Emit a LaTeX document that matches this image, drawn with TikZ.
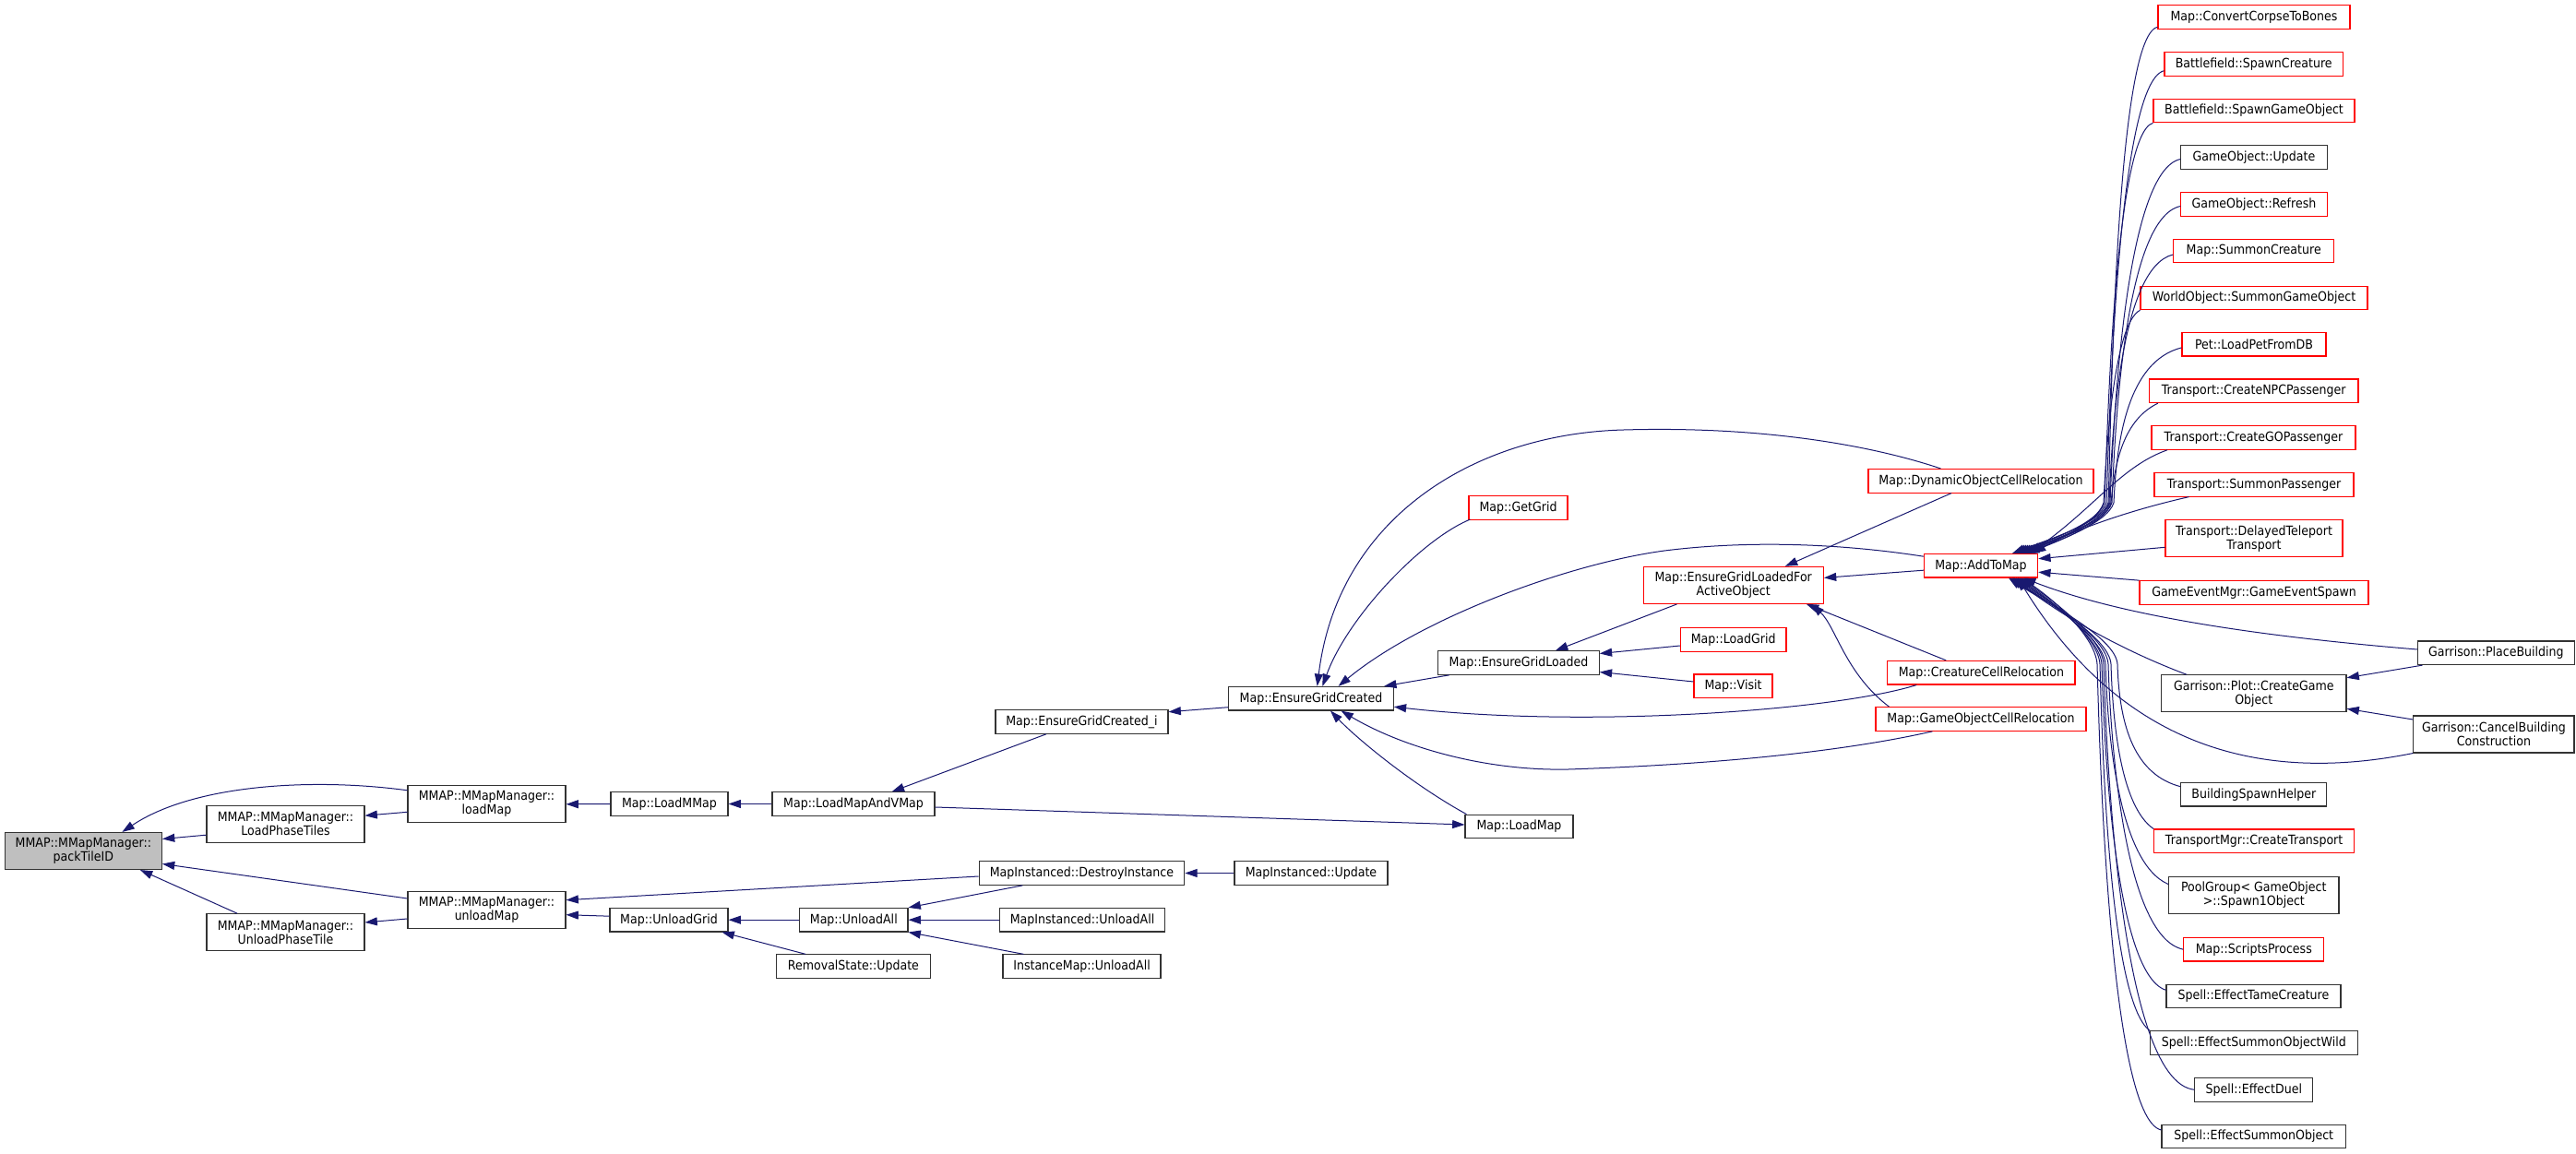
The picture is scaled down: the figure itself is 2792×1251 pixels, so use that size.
\documentclass[tikz,border=0pt]{standalone}
\usepackage{fontspec}
\setmainfont{DejaVu Sans}[FakeStretch=0.9]
\usetikzlibrary{arrows.meta,calc}
\definecolor{edgeblue}{RGB}{25,25,112}
\definecolor{nodegray}{RGB}{191,191,191}
\newcommand\ndfont{\fontsize{10.5}{11.3}\selectfont}
\begin{document}
\begin{tikzpicture}[x=0.75pt,y=-0.75pt,
  nd/.style={draw=black!80, line width=0.8pt, fill=white, inner sep=1pt, font=\ndfont, align=center, minimum height=19.2pt},
  rd/.style={nd, draw=red},
  n2/.style={minimum height=30pt},
  w/.style={minimum width={#1*0.75pt}},
  e/.style={draw=edgeblue, line width=0.75pt, -{Triangle[length=10pt,width=6.7pt]}}]
\fill[white] (0,0) rectangle (2792,1251);
\useasboundingbox (0,0) rectangle (2792,1251);

% left part
\node[nd,n2,w=170,fill=nodegray] (ptid) at (90.4,922.5) {MMAP::MMapManager::\\packTileID};
\node[nd,n2,w=171] (lpt) at (309.5,893.2) {MMAP::MMapManager::\\LoadPhaseTiles};
\node[nd,n2,w=171] (upt) at (309.5,1010.7) {MMAP::MMapManager::\\UnloadPhaseTile};
\node[nd,n2,w=171] (lm) at (527.5,871.8) {MMAP::MMapManager::\\loadMap};
\node[nd,n2,w=171] (um) at (527.5,986.7) {MMAP::MMapManager::\\unloadMap};
\node[nd,w=127] (lmm) at (725.5,871.5) {Map::LoadMMap};
\node[nd,w=176] (lmav) at (925,871.5) {Map::LoadMapAndVMap};
\node[nd,w=187] (egci) at (1172.5,782.5) {Map::EnsureGridCreated\_i};
\node[nd,w=178.5] (egc) at (1421,757.2) {Map::EnsureGridCreated};
\node[nd,w=117] (lmap) at (1646.5,896) {Map::LoadMap};
\node[rd,w=107] (gg) at (1645.5,550.7) {Map::GetGrid};
\node[nd,w=174.5] (egl) at (1646,718.5) {Map::EnsureGridLoaded};
\node[rd,n2,w=195.3] (eglfao) at (1878.7,634.4) {Map::EnsureGridLoadedFor\\ActiveObject};
\node[rd,w=114.5] (lg) at (1878.7,693.5) {Map::LoadGrid};
\node[rd,w=85] (vis) at (1878.5,743.8) {Map::Visit};
\node[rd,w=244] (docr) at (2147,521.3) {Map::DynamicObjectCellRelocation};
\node[rd,w=123.4] (atm) at (2147,613.2) {Map::AddToMap};
\node[rd,w=203.2] (ccr) at (2147.4,729.2) {Map::CreatureCellRelocation};
\node[rd,w=228] (gocr) at (2147,779.5) {Map::GameObjectCellRelocation};
\node[nd,w=222.7] (mid) at (1172.4,946.5) {MapInstanced::DestroyInstance};
\node[nd,w=166] (miu) at (1421,946.5) {MapInstanced::Update};
\node[nd,w=128] (ug) at (725,997.2) {Map::UnloadGrid};
\node[nd,w=117.4] (ua) at (925.3,997.2) {Map::UnloadAll};
\node[nd,w=179.2] (miua) at (1173,997.2) {MapInstanced::UnloadAll};
\node[nd,w=166.3] (rsu) at (924.9,1047.7) {RemovalState::Update};
\node[nd,w=171] (imua) at (1172.5,1047.7) {InstanceMap::UnloadAll};

% right column
\node[rd,w=208] (ccb) at (2443,18.5) {Map::ConvertCorpseToBones};
\node[rd,w=193.5] (bsc) at (2442.7,69.3) {Battlefield::SpawnCreature};
\node[rd,w=218] (bsg) at (2443,120) {Battlefield::SpawnGameObject};
\node[nd,w=158.2] (gou) at (2443,170.5) {GameObject::Update};
\node[rd,w=158.2] (gor) at (2443,221.5) {GameObject::Refresh};
\node[rd,w=174] (msc) at (2442.7,272) {Map::SummonCreature};
\node[rd,w=246] (wosg) at (2443,323) {WorldObject::SummonGameObject};
\node[rd,w=156] (pet) at (2443,373.2) {Pet::LoadPetFromDB};
\node[rd,w=226.6] (tnpc) at (2442.7,423.8) {Transport::CreateNPCPassenger};
\node[rd,w=221] (tgo) at (2442.5,474.5) {Transport::CreateGOPassenger};
\node[rd,w=216] (tsp) at (2443,525.3) {Transport::SummonPassenger};
\node[rd,n2,w=192] (tdt) at (2443,583.7) {Transport::DelayedTeleport\\Transport};
\node[rd,w=248] (ges) at (2443,642.5) {GameEventMgr::GameEventSpawn};
\node[nd,w=170] (gpb) at (2705.4,707.8) {Garrison::PlaceBuilding};
\node[nd,n2,w=200.4] (gpc) at (2442.8,751.8) {Garrison::Plot::CreateGame\\Object};
\node[nd,n2,w=174.2] (gcb) at (2702.9,796) {Garrison::CancelBuilding\\Construction};
\node[nd,w=158] (bsh) at (2442.8,861.2) {BuildingSpawnHelper};
\node[rd,w=217] (tmct) at (2443.1,911.8) {TransportMgr::CreateTransport};
\node[nd,n2,w=184.4] (pool) at (2442.8,970.5) {PoolGroup< GameObject\\>::Spawn1Object};
\node[rd,w=152] (msp) at (2442.8,1029.2) {Map::ScriptsProcess};
\node[nd,w=189] (stc) at (2442.5,1080) {Spell::EffectTameCreature};
\node[nd,w=224.5] (sow) at (2442.8,1130.5) {Spell::EffectSummonObjectWild};
\node[nd,w=128] (sed) at (2442.8,1181.3) {Spell::EffectDuel};
\node[nd,w=199.4] (seso) at (2442.7,1232) {Spell::EffectSummonObject};

% edges, left
\draw[e] ($(lm.west)+(0,-15)$) .. controls (340,843) and (210,850) .. ($(ptid.north)+(42,0)$);
\draw[e] ($(lpt.west)+(0,12)$) -- ($(ptid.east)+(0,-13)$);
\draw[e] ($(lm.west)+(0,8.5)$) -- ($(lpt.east)+(0,-9)$);
\draw[e] ($(um.west)+(0,-12.7)$) -- ($(ptid.east)+(0,14)$);
\draw[e] ($(upt.north west)+(33.6,0)$) -- ($(ptid.south east)+(-24,0)$);
\draw[e] ($(um.west)+(0,9.3)$) -- ($(upt.east)+(0,-10.7)$);
\draw[e] (lmm.west) -- (lm.east);
\draw[e] (lmav.west) -- (lmm.east);
\draw[e] ($(egci.south west)+(55.4,0)$) -- ($(lmav.north)+(41.7,0)$);
\draw[e] ($(lmav.east)+(0,3.5)$) -- ($(lmap.west)+(0,-2)$);
\draw[e] ($(egc.west)+(0,9.5)$) -- ($(egci.east)+(0,-10.8)$);
\draw[e] ($(lmap.north west)+(2,0)$) .. controls (1530,850) and (1470,800) .. ($(egc.south)+(21,0)$);
\draw[e] ($(docr.north west)+(79,0)$) .. controls (2020,480) and (1900,462) .. (1760,466) .. controls (1600,470) and (1450,560) .. ($(egc.north)+(6.7,0)$);
\draw[e] ($(gg.south west)+(2,-1)$) .. controls (1540,585) and (1460,670) .. ($(egc.north)+(12.4,0)$);
\draw[e] ($(atm.west)+(0,-10)$) .. controls (2000,590) and (1900,585) .. (1804,597) .. controls (1700,611) and (1540,670) .. ($(egc.north)+(29.6,0)$);
\draw[e] ($(egl.south west)+(12.5,0)$) -- ($(egc.north east)+(-10.6,0)$);
\draw[e] ($(ccr.south west)+(32,0)$) .. controls (1990,770) and (1720,790) .. ($(egc.east)+(0,9)$);
\draw[e] ($(gocr.south west)+(62,0)$) .. controls (2010,812) and (1880,828) .. (1700,834) .. controls (1610,836) and (1520,810) .. ($(egc.south)+(32.5,0)$);
\draw[e] ($(eglfao.south west)+(37,0)$) -- ($(egl.north)+(40,0)$);
\draw[e] ($(lg.west)+(0,6.5)$) -- ($(egl.east)+(0,-10)$);
\draw[e] ($(vis.west)+(0,-4.8)$) -- ($(egl.east)+(0,10)$);
\draw[e] ($(docr.south)+(-32,0)$) -- ($(eglfao.north east)+(-42,0)$);
\draw[e] ($(atm.west)+(0,5)$) -- ($(eglfao.east)+(0,-8)$);
\draw[e] ($(ccr.north west)+(64,0)$) -- ($(eglfao.south east)+(-19,0)$);
\draw[e] ($(gocr.north west)+(15,0)$) .. controls (2000,730) and (1990,680) .. ($(eglfao.south east)+(-13,0)$);

% edges, bottom
\draw[e] ($(mid.west)+(0,3.5)$) -- ($(um.east)+(0,-11)$);
\draw[e] ($(ug.west)+(0,-4)$) -- ($(um.east)+(0,5)$);
\draw[e] (miu.west) -- (mid.east);
\draw[e] ($(mid.south)+(-64,0)$) -- (ua.north east);
\draw[e] (miua.west) -- (ua.east);
\draw[e] ($(imua.north west)+(23,0)$) -- (ua.south east);
\draw[e] (ua.west) -- (ug.east);
\draw[e] ($(rsu.north west)+(32,0)$) -- ($(ug.south east)+(-7,0)$);

% edges, right
\draw[e] ($(tdt.west)+(0,9.6)$) -- ($(atm.east)+(0,-7.5)$);
\draw[e] (ges.north west) -- ($(atm.east)+(0,7)$);
\draw[e] ($(gpb.south west)+(5.6,0)$) -- ($(gpc.east)+(0,-17)$);
\draw[e] ($(gcb.west)+(0,-16)$) -- ($(gpc.east)+(0,16.5)$);
\draw[e] ($(gpb.west)+(0,-3.8)$) .. controls (2450,690) and (2300,668) .. ($(atm.south)+(46,0)$);
\draw[e] ($(gpc.north west)+(28,0)$) .. controls (2300,705) and (2235,668) .. ($(atm.south)+(35,0)$);
\draw[e] (gcb.south west) .. controls (2450,850) and (2300,810) .. ($(atm.south)+(40,0)$);

% right column, above Map::AddToMap
\draw[e] ($(ccb.west)+(0,10.8)$) .. controls (2292,40) and (2288,470) .. (2285,545) .. controls (2278,568) and (2211,588) .. ($(atm.north)+(34,0)$);
\draw[e] ($(bsc.west)+(0,7.4)$) .. controls (2294,90) and (2286,470) .. (2283,545) .. controls (2276,568) and (2213,588) .. ($(atm.north)+(36,0)$);
\draw[e] (bsg.south west) .. controls (2292,145) and (2284,470) .. (2281,545) .. controls (2274,568) and (2215,588) .. ($(atm.north)+(38,0)$);
\draw[e] ($(gou.west)+(0,2)$) .. controls (2302,185) and (2290,470) .. (2287,545) .. controls (2280,568) and (2217,588) .. ($(atm.north)+(40,0)$);
\draw[e] ($(gor.west)+(0,2)$) .. controls (2302,236) and (2292,470) .. (2289,545) .. controls (2282,568) and (2219,588) .. ($(atm.north)+(42,0)$);
\draw[e] ($(msc.west)+(0,4)$) .. controls (2298,290) and (2289,470) .. (2286,545) .. controls (2279,568) and (2221,588) .. ($(atm.north)+(44,0)$);
\draw[e] (wosg.south west) .. controls (2292,350) and (2283,480) .. (2280,545) .. controls (2273,568) and (2223,588) .. ($(atm.north)+(46,0)$);
\draw[e] ($(pet.west)+(0,3.7)$) .. controls (2305,392) and (2294,480) .. (2291,545) .. controls (2284,568) and (2225,588) .. ($(atm.north)+(48,0)$);
\draw[e] ($(tnpc.south west)+(10,0)$) .. controls (2302,455) and (2292,500) .. (2288,545) .. controls (2282,568) and (2227,588) .. ($(atm.north)+(50,0)$);
\draw[e] ($(tgo.south west)+(17.5,0)$) .. controls (2300,505) and (2270,550) .. ($(atm.north)+(53,0)$);
\draw[e] ($(tsp.south west)+(38,0)$) .. controls (2300,555) and (2240,578) .. ($(atm.north)+(57,0)$);

% right column, below Map::AddToMap
\draw[e] ($(bsh.west)+(0,-8.5)$) .. controls (2315,840) and (2297,790) .. (2295,720) .. controls (2293,690) and (2212,650) .. ($(atm.south)+(30,0)$);
\draw[e] (tmct.north west) .. controls (2300,875) and (2290,790) .. (2288,720) .. controls (2286,690) and (2214,650) .. ($(atm.south)+(32,0)$);
\draw[e] ($(pool.west)+(0,-12)$) .. controls (2295,935) and (2284,790) .. (2282,720) .. controls (2280,690) and (2216,650) .. ($(atm.south)+(34,0)$);
\draw[e] (msp.west) .. controls (2300,1015) and (2287,790) .. (2285,720) .. controls (2283,690) and (2218,650) .. ($(atm.south)+(36,0)$);
\draw[e] ($(stc.west)+(0,-6.7)$) .. controls (2290,1055) and (2280,790) .. (2278,720) .. controls (2276,690) and (2220,650) .. ($(atm.south)+(38,0)$);
\draw[e] (sow.north west) .. controls (2285,1085) and (2278,790) .. (2276,720) .. controls (2274,690) and (2222,650) .. ($(atm.south)+(40,0)$);
\draw[e] (sed.west) .. controls (2295,1172) and (2282,790) .. (2280,720) .. controls (2278,690) and (2224,650) .. ($(atm.south)+(42,0)$);
\draw[e] ($(seso.west)+(0,-7)$) .. controls (2285,1212) and (2275,790) .. (2273,720) .. controls (2271,690) and (2226,650) .. ($(atm.south)+(44,0)$);
\end{tikzpicture}
\end{document}
